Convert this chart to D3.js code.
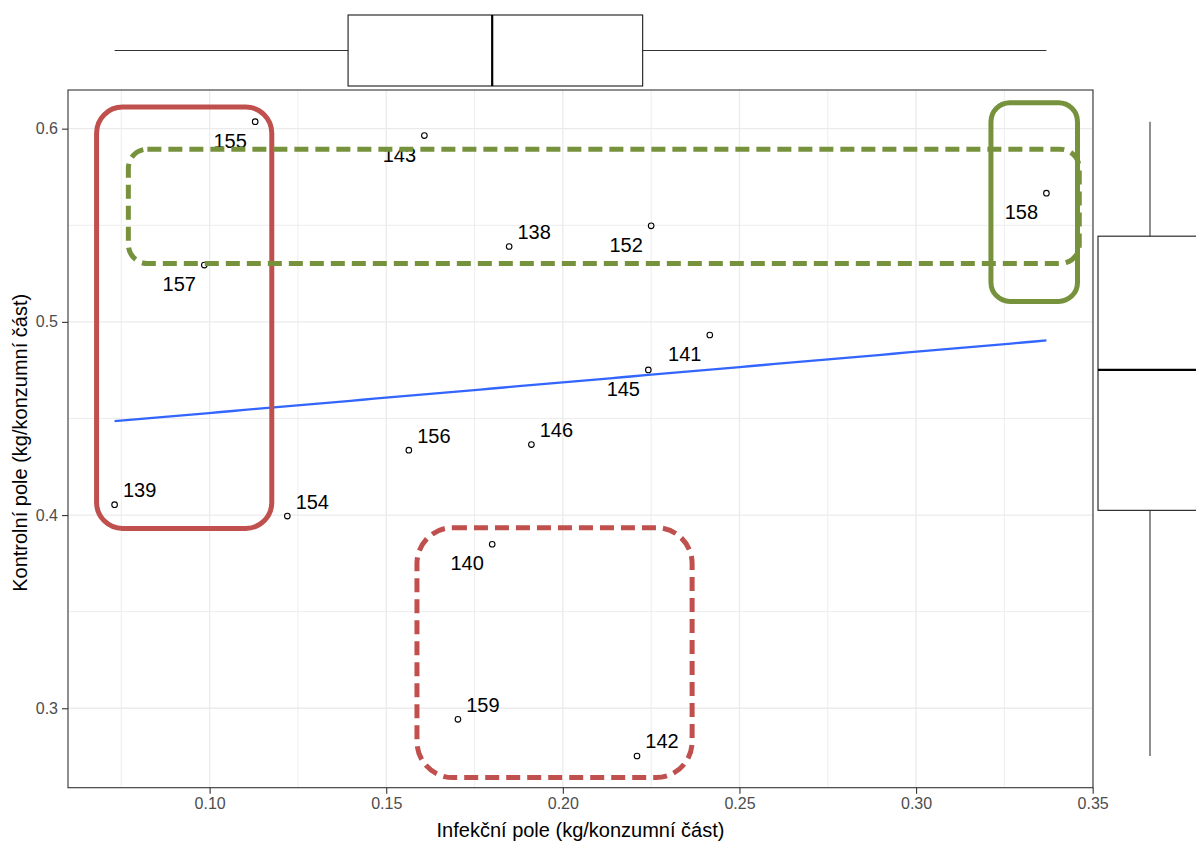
<!DOCTYPE html>
<html><head><meta charset="utf-8">
<script src="https://cdn.jsdelivr.net/npm/d3@7"></script>
<style>
body{margin:0;background:#fff}
svg{display:block}
text{font-family:"Liberation Sans",Arial,sans-serif}
</style>
</head><body>
<svg id="c" width="1196" height="841"></svg>
<script>
// ---- data ----
const ids        = ["155","143","138","152","141","145","158","157","139","154","156","146","140","159","142"];
const infekcni   = [0.1129,0.1608,0.1848,0.2250,0.2416,0.2242,0.3369,0.0985,0.0731,0.1220,0.1564,0.1911,0.1800,0.1703,0.2210];
const kontrolni  = [0.6036,0.5964,0.5390,0.5497,0.4932,0.4751,0.5666,0.5294,0.4054,0.3995,0.4336,0.4365,0.3849,0.2943,0.2753];
const labelSide  = ["ll","ll","ur","ll","ll","ll","ll","ll","ur","ur","ur","ur","ll","ur","ur"];
const xTicks = [0.10,0.15,0.20,0.25,0.30,0.35];
const yTicks = [0.3,0.4,0.5,0.6];
const xMinor = [0.075,0.125,0.175,0.225,0.275,0.325];
const yMinor = [0.35,0.45,0.55];
const xTitle = "Infekční pole (kg/konzumní část)";
const yTitle = "Kontrolní pole (kg/konzumní část)";
// highlighted regions (data units)
const hlX0 = [0.0680, 0.0770, 0.3212, 0.1587];
const hlX1 = [0.1176, 0.3462, 0.3457, 0.2366];
const hlY0 = [0.3931, 0.5302, 0.5106, 0.2641];
const hlY1 = [0.6112, 0.5894, 0.6134, 0.3935];

// ---- styles ----
const hlStyle = [
  {color:"#c0504d", dash:null, r:26},
  {color:"#77923c", dash:"14,7", r:19},
  {color:"#77923c", dash:null, r:19},
  {color:"#c0504d", dash:"14,7", r:36}
];

const svg = d3.select("#c");
const P = {l:68, r:1093, t:90, b:787.7};

function expand(arr){const lo=d3.min(arr),hi=d3.max(arr),d=(hi-lo)*0.05;return [lo-d,hi+d];}
const x = d3.scaleLinear().domain(expand(infekcni)).range([P.l,P.r]);
const y = d3.scaleLinear().domain(expand(kontrolni)).range([P.b,P.t]);

const data = ids.map((id,i)=>({id, x:infekcni[i], y:kontrolni[i], side:labelSide[i]}));

// panel background & grid
const g = svg.append("g");
g.append("rect").attr("x",P.l).attr("y",P.t).attr("width",P.r-P.l).attr("height",P.b-P.t).attr("fill","#fff");
g.selectAll(".xm").data(xMinor).join("line").attr("x1",d=>x(d)).attr("x2",d=>x(d)).attr("y1",P.t).attr("y2",P.b).attr("stroke","#ebebeb").attr("stroke-width",0.9);
g.selectAll(".ym").data(yMinor).join("line").attr("y1",d=>y(d)).attr("y2",d=>y(d)).attr("x1",P.l).attr("x2",P.r).attr("stroke","#ebebeb").attr("stroke-width",0.9);
g.selectAll(".xg").data(xTicks.filter(d=>x(d)<P.r)).join("line").attr("x1",d=>x(d)).attr("x2",d=>x(d)).attr("y1",P.t).attr("y2",P.b).attr("stroke","#ebebeb").attr("stroke-width",1.3);
g.selectAll(".yg").data(yTicks).join("line").attr("y1",d=>y(d)).attr("y2",d=>y(d)).attr("x1",P.l).attr("x2",P.r).attr("stroke","#ebebeb").attr("stroke-width",1.3);

// axes
const xAxis = d3.axisBottom(x).tickValues(xTicks).tickFormat(d3.format(".2f")).tickSize(6).tickPadding(4);
const yAxis = d3.axisLeft(y).tickValues(yTicks).tickFormat(d3.format(".1f")).tickSize(6).tickPadding(4);
const gx = svg.append("g").attr("transform",`translate(0,${P.b})`).call(xAxis);
const gy = svg.append("g").attr("transform",`translate(${P.l},0)`).call(yAxis);
[gx,gy].forEach(a=>{
  a.select(".domain").remove();
  a.selectAll(".tick line").attr("stroke","#333").attr("stroke-width",1.1);
  a.selectAll(".tick text").attr("fill","#4d4d4d").style("font-size","16px").style("font-family","'Liberation Sans',Arial,sans-serif");
});

// regression line (least squares)
const mx=d3.mean(infekcni), my=d3.mean(kontrolni);
let sxy=0,sxx=0; infekcni.forEach((v,i)=>{sxy+=(v-mx)*(kontrolni[i]-my);sxx+=(v-mx)*(v-mx);});
const slope=sxy/sxx, icpt=my-slope*mx;
const xs=d3.extent(infekcni);
const linePts=d3.range(80).map(k=>{const xv=xs[0]+(xs[1]-xs[0])*k/79;return [xv,icpt+slope*xv];});
svg.append("path").datum(linePts).attr("d",d3.line().x(d=>x(d[0])).y(d=>y(d[1])))
  .attr("fill","none").attr("stroke","#3366ff").attr("stroke-width",2.3);

// points
svg.selectAll(".pt").data(data).join("circle").attr("cx",d=>x(d.x)).attr("cy",d=>y(d.y)).attr("r",2.8)
  .attr("fill","none").attr("stroke","#000").attr("stroke-width",1.1);

// labels
svg.selectAll(".lb").data(data).join("text")
  .attr("x",d=>x(d.x)+(d.side==="ur"?25:-25))
  .attr("y",d=>y(d.y)+(d.side==="ur"?-7.5:26))
  .attr("text-anchor","middle").style("font-size","20px").attr("fill","#000").text(d=>d.id);

// panel border
svg.append("rect").attr("x",P.l).attr("y",P.t).attr("width",P.r-P.l).attr("height",P.b-P.t)
  .attr("fill","none").attr("stroke","#333").attr("stroke-width",1.1);

// axis titles
svg.append("text").attr("x",(P.l+P.r)/2).attr("y",836.5).attr("text-anchor","middle").style("font-size","20px").attr("fill","#000").text(xTitle);
svg.append("text").attr("transform",`translate(27,${(P.t+P.b)/2+4}) rotate(-90)`).attr("text-anchor","middle").style("font-size","20px").attr("fill","#000").text(yTitle);

// marginal boxplots
function boxStats(arr){
  const s=arr.slice().sort(d3.ascending);
  const q1=d3.quantile(s,0.25), med=d3.quantile(s,0.5), q3=d3.quantile(s,0.75), iqr=q3-q1;
  const lo=d3.min(s.filter(v=>v>=q1-1.5*iqr)), hi=d3.max(s.filter(v=>v<=q3+1.5*iqr));
  return {q1,med,q3,lo,hi};
}
const bx=boxStats(infekcni), by=boxStats(kontrolni);
// top (x)
const tb=svg.append("g");
const tT=15, tB=86, tM=50.5;
tb.append("line").attr("x1",x(bx.lo)).attr("x2",x(bx.q1)).attr("y1",tM).attr("y2",tM).attr("stroke","#333").attr("stroke-width",1.1);
tb.append("line").attr("x1",x(bx.q3)).attr("x2",x(bx.hi)).attr("y1",tM).attr("y2",tM).attr("stroke","#333").attr("stroke-width",1.1);
tb.append("rect").attr("x",x(bx.q1)).attr("y",tT).attr("width",x(bx.q3)-x(bx.q1)).attr("height",tB-tT).attr("fill","#fff").attr("stroke","#1a1a1a").attr("stroke-width",1.1);
tb.append("line").attr("x1",x(bx.med)).attr("x2",x(bx.med)).attr("y1",tT).attr("y2",tB).attr("stroke","#000").attr("stroke-width",2.2);
// right (y)
const rb=svg.append("g");
const rL=1098, rR=1203, rM=1150;
rb.append("line").attr("x1",rM).attr("x2",rM).attr("y1",y(by.hi)).attr("y2",y(by.q3)).attr("stroke","#333").attr("stroke-width",1.1);
rb.append("line").attr("x1",rM).attr("x2",rM).attr("y1",y(by.q1)).attr("y2",y(by.lo)).attr("stroke","#333").attr("stroke-width",1.1);
rb.append("rect").attr("x",rL).attr("y",y(by.q3)).attr("width",rR-rL).attr("height",y(by.q1)-y(by.q3)).attr("fill","#fff").attr("stroke","#1a1a1a").attr("stroke-width",1.1);
rb.append("line").attr("x1",rL).attr("x2",rR).attr("y1",y(by.med)).attr("y2",y(by.med)).attr("stroke","#000").attr("stroke-width",2.2);

// highlight boxes
hlX0.forEach((v,i)=>{
  const st=hlStyle[i];
  const r=svg.append("rect").attr("x",x(v)).attr("y",y(hlY1[i])).attr("width",x(hlX1[i])-x(v)).attr("height",y(hlY0[i])-y(hlY1[i]))
    .attr("rx",st.r).attr("ry",st.r).attr("fill","none").attr("stroke",st.color).attr("stroke-width",5);
  if(st.dash) r.attr("stroke-dasharray",st.dash);
});
</script>
</body></html>
